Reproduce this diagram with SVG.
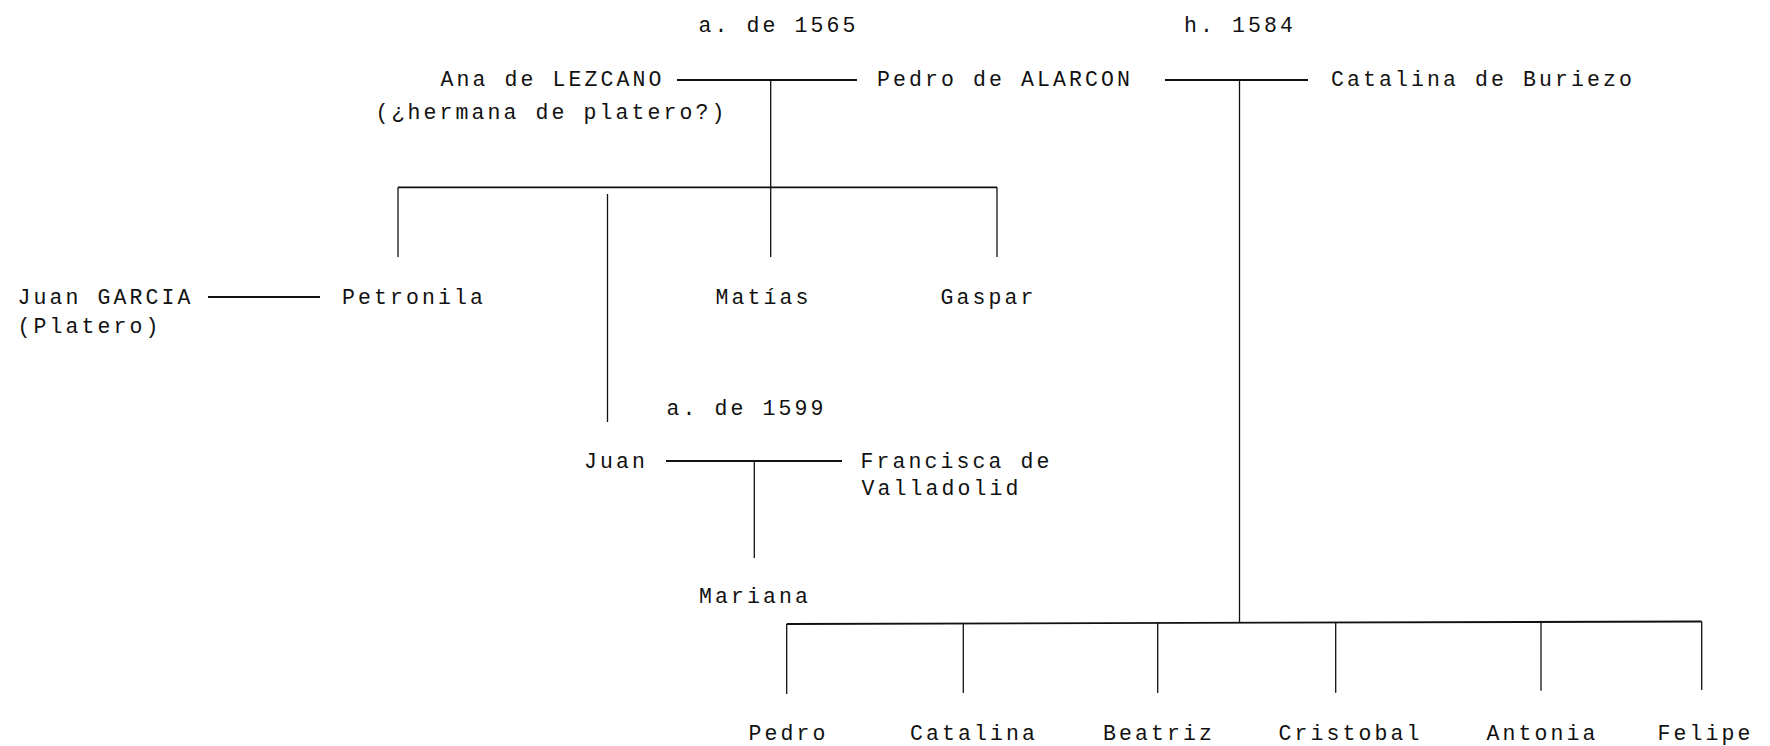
<svg xmlns="http://www.w3.org/2000/svg" width="1770" height="746" viewBox="0 0 1770 746">
<style>
text{font-family:"Liberation Mono","DejaVu Sans Mono",monospace;font-size:21.5px;letter-spacing:3.1px;fill:#111}
.h{stroke:#111;stroke-width:1.8;fill:none}
.v{stroke:#111;stroke-width:1.3;fill:none}
</style>
<rect width="1770" height="746" fill="#fff"/>
<g id="connectors">
<line class="h" x1="677" y1="80" x2="857" y2="80"/>
<line class="v" x1="770.7" y1="80" x2="770.7" y2="257"/>
<line class="h" x1="1165" y1="80" x2="1308" y2="80"/>
<line class="v" x1="1239.5" y1="80" x2="1239.5" y2="622"/>
<line class="h" x1="398" y1="187.3" x2="997" y2="187.3"/>
<line class="v" x1="398" y1="187.3" x2="398" y2="257"/>
<line class="v" x1="997" y1="187.3" x2="997" y2="257"/>
<line class="v" x1="607.5" y1="194" x2="607.5" y2="422"/>
<line class="h" x1="208" y1="297" x2="320" y2="297"/>
<line class="h" x1="666" y1="461" x2="842" y2="461"/>
<line class="v" x1="754.3" y1="461" x2="754.3" y2="558"/>
<line class="h" x1="786.7" y1="624" x2="1701.7" y2="621.5"/>
<line class="v" x1="786.7" y1="624" x2="786.7" y2="694"/>
<line class="v" x1="963.3" y1="623.5" x2="963.3" y2="693"/>
<line class="v" x1="1157.7" y1="623" x2="1157.7" y2="693"/>
<line class="v" x1="1335.7" y1="622.5" x2="1335.7" y2="692.7"/>
<line class="v" x1="1541" y1="622" x2="1541" y2="690.7"/>
<line class="v" x1="1701.7" y1="621.5" x2="1701.7" y2="690"/>
</g>
<g id="date-1565"><text x="698.5" y="32">a. de 1565</text></g>
<g id="date-1584"><text x="1184" y="32">h. 1584</text></g>
<g id="ana"><text x="440.5" y="86">Ana de LEZCANO</text><text x="375.5" y="118.5">(¿hermana de platero?)</text></g>
<g id="pedro-alarcon"><text x="877" y="86">Pedro de ALARCON</text></g>
<g id="catalina-buriezo"><text x="1331" y="86">Catalina de Buriezo</text></g>
<g id="juan-garcia"><text x="17.5" y="304">Juan GARCIA</text><text x="17.5" y="333">(Platero)</text></g>
<g id="petronila"><text x="342" y="304">Petronila</text></g>
<g id="matias"><text x="715.5" y="304">Matías</text></g>
<g id="gaspar"><text x="940.5" y="304">Gaspar</text></g>
<g id="date-1599"><text x="666.5" y="415">a. de 1599</text></g>
<g id="juan"><text x="584" y="468">Juan</text></g>
<g id="francisca"><text x="860.5" y="468">Francisca de</text><text x="861.5" y="495">Valladolid</text></g>
<g id="mariana"><text x="699" y="603">Mariana</text></g>
<g id="pedro"><text x="748.5" y="740">Pedro</text></g>
<g id="catalina"><text x="910" y="740">Catalina</text></g>
<g id="beatriz"><text x="1103" y="740">Beatriz</text></g>
<g id="cristobal"><text x="1278.5" y="740">Cristobal</text></g>
<g id="antonia"><text x="1486.5" y="740">Antonia</text></g>
<g id="felipe"><text x="1657.5" y="740">Felipe</text></g>
</svg>
